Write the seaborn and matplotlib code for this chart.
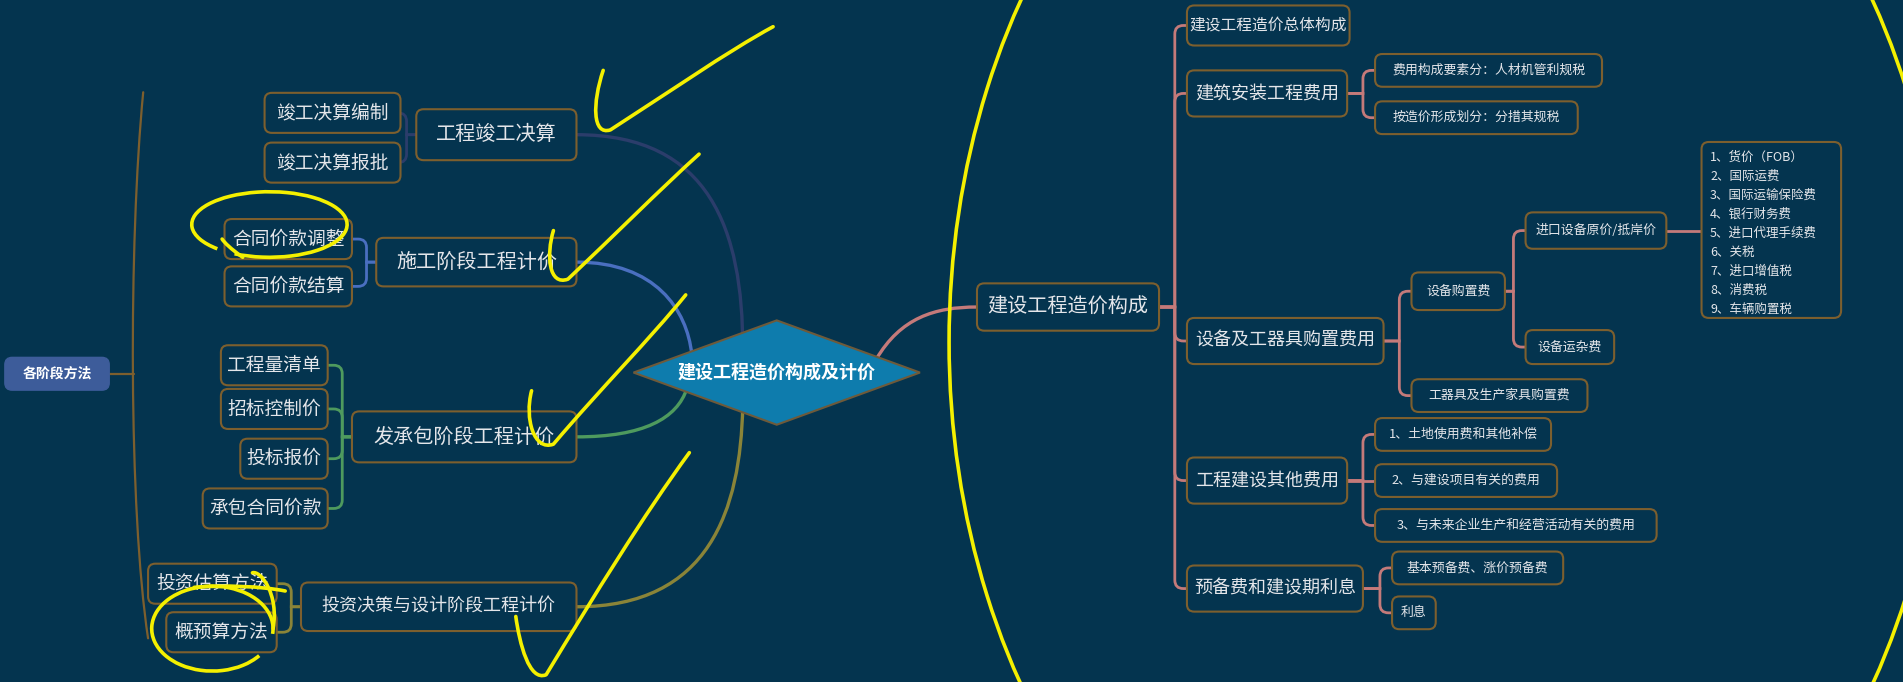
import matplotlib
matplotlib.use("Agg")
import matplotlib.pyplot as plt
from matplotlib.patches import FancyBboxPatch, Polygon, Arc
from matplotlib.path import Path
from matplotlib.patches import PathPatch
import seaborn as sns

sns.set_theme(style="dark")
plt.rcParams['font.family'] = ['Noto Sans CJK SC', 'DejaVu Sans']

# colours
BG = '#04344f'
EDGE = '#7d5f2e'
TXT = '#e4e6ea'
PINK = '#c47a7a'
YEL = '#f4f000'

# ---- labels (the "data" of the mind map) ----
center_label = "建设工程造价构成及计价"
left_root = "各阶段方法"

stage_names = ["工程竣工决算", "施工阶段工程计价", "发承包阶段工程计价", "投资决策与设计阶段工程计价"]
stage_items = [
    ["竣工决算编制", "竣工决算报批"],
    ["合同价款调整", "合同价款结算"],
    ["工程量清单", "招标控制价", "投标报价", "承包合同价款"],
    ["投资估算方法", "概预算方法"],
]
stage_colors = ['#2b3d6b', '#4a6fc0', '#4e9a5e', '#8a8438']

right_root = "建设工程造价构成"
right_level2 = ["建设工程造价总体构成", "建筑安装工程费用", "设备及工器具购置费用", "工程建设其他费用", "预备费和建设期利息"]
right_level3 = {
    "建筑安装工程费用": ["费用构成要素分：人材机管利规税", "按造价形成划分：分措其规税"],
    "设备及工器具购置费用": ["设备购置费", "工器具及生产家具购置费"],
    "工程建设其他费用": ["1、土地使用费和其他补偿", "2、与建设项目有关的费用", "3、与未来企业生产和经营活动有关的费用"],
    "预备费和建设期利息": ["基本预备费、涨价预备费", "利息"],
}
equip_items = ["进口设备原价/抵岸价", "设备运杂费"]
import_costs = ["1、货价（FOB）", "2、国际运费", "3、国际运输保险费", "4、银行财务费", "5、进口代理手续费",
                "6、关税", "7、进口增值税", "8、消费税", "9、车辆购置税"]

# ---- layout (canvas units, scaled to the 1903x682 output) ----
W, H = 1568, 562
# stage boxes: x0, x1, yc, h, fontsize
stage_box = [(343, 475, 111, 42, 14.5), (310, 475, 216, 40, 14.5), (290, 475, 360, 42, 14.5), (248, 475, 500, 40, 13)]
# item boxes: x0, x1, yc
item_box = [
    [(218, 330, 93), (218, 330, 134)],
    [(185, 290, 197), (185, 290, 236)],
    [(182, 270, 301), (182, 270, 337), (198, 270, 378), (167, 270, 419)],
    [(122, 228, 481), (137, 228, 521)],
]
# x0, x1, yc, h, fontsize
l2_box = [(978, 1112, 21, 33, 11.3), (978, 1110, 77, 38, 13), (978, 1140, 281, 38, 13),
          (978, 1110, 396, 38, 13), (978, 1123, 485, 38, 13)]
l3_box = {
    "建筑安装工程费用": [(1133, 1320, 58), (1133, 1300, 97)],
    "设备及工器具购置费用": [(1163, 1240, 240), (1163, 1308, 326)],
    "工程建设其他费用": [(1133, 1278, 358), (1133, 1283, 396), (1133, 1365, 433)],
    "预备费和建设期利息": [(1147, 1288, 468), (1147, 1183, 505)],
}
l4_box = [(1257, 1373, 190), (1257, 1330, 286)]

fig = plt.figure(figsize=(19.03, 6.82), dpi=100)
fig.patch.set_facecolor(BG)
ax = fig.add_axes([0, 0, 1, 1])
ax.set_facecolor(BG)
ax.set_xlim(0, W)
ax.set_ylim(H, 0)
ax.axis('off')


def box(x0, x1, yc, h, text, fs, ec=EDGE, fc=BG, tc=TXT, weight='normal', lw=1.5, r=6):
    ax.add_patch(FancyBboxPatch((x0, yc - h / 2), x1 - x0, h,
                                boxstyle=f"round,pad=0,rounding_size={r}",
                                fc=fc, ec=ec, lw=lw, zorder=3))
    ax.text((x0 + x1) / 2, yc, text, ha='center', va='center', fontsize=fs,
            color=tc, fontweight=weight, zorder=4)


def elbow(px, py, tx, cx, cy, color, lw=2.0, r=7):
    d = 1 if cx > tx else -1
    if abs(cy - py) < 2:
        verts = [(px, py), (cx, cy)]
        codes = [Path.MOVETO, Path.LINETO]
    else:
        s = 1 if cy > py else -1
        verts = [(px, py), (tx, py), (tx, cy - s * r), (tx, cy), (tx + d * r, cy), (cx, cy)]
        codes = [Path.MOVETO, Path.LINETO, Path.LINETO, Path.CURVE3, Path.CURVE3, Path.LINETO]
    ax.add_patch(PathPatch(Path(verts, codes), fc='none', ec=color, lw=lw, zorder=2))


def bezier(pts, color, lw=2.2, z=2):
    codes = [Path.MOVETO] + [Path.CURVE4] * (len(pts) - 1)
    ax.add_patch(PathPatch(Path(pts, codes), fc='none', ec=color, lw=lw, zorder=z,
                           capstyle='round', joinstyle='round'))


# ---- centre diamond ----
ax.add_patch(Polygon([(522, 307), (640, 264), (758, 307), (640, 350)], closed=True,
                     fc='#0e7cad', ec='#6e5a3a', lw=1.5, zorder=3))
ax.text(640, 307, center_label, ha='center', va='center', fontsize=13,
        color='white', fontweight='bold', zorder=4)

# ---- left side ----
box(4, 90, 308, 27, left_root, 10, ec='#3d5c9a', fc='#3d5c9a', tc='white', weight='bold', lw=1)
ax.plot([90, 110], [308, 308], color=EDGE, lw=1.6, zorder=2)
bezier([(118, 76), (106, 200), (106, 420), (122, 526)], EDGE, lw=1.6)

main_curves = [
    [(475, 111), (585, 111), (612, 190), (612, 287)],
    [(475, 216), (540, 216), (566, 255), (570, 292)],
    [(475, 360), (530, 360), (558, 345), (566, 320)],
    [(475, 500), (585, 500), (610, 420), (612, 335)],
]
for name, items, col, sb, ib, curve in zip(stage_names, stage_items, stage_colors, stage_box, item_box, main_curves):
    x0, x1, yc, h, fs = sb
    bezier(curve, col, lw=2.4, z=1)
    box(x0, x1, yc, h, name, fs)
    for it, (ix0, ix1, iy) in zip(items, ib):
        elbow(x0, yc, x0 - 8, ix1, iy, col, lw=2)
        box(ix0, ix1, iy, 33, it, 13.5)

# ---- right side ----
bezier([(722, 296), (742, 262), (770, 253), (805, 253)], PINK, lw=2.4, z=1)
box(805, 955, 253, 39, right_root, 14.5)
for name, (x0, x1, yc, h, fs) in zip(right_level2, l2_box):
    elbow(955, 253, 968, x0, yc, PINK)
    box(x0, x1, yc, h, name, fs)
    if name in right_level3:
        kids = right_level3[name]
        kb = l3_box[name]
        tx = kb[0][0] - 10
        for k, (kx0, kx1, ky) in zip(kids, kb):
            elbow(x1, yc, tx, kx0, ky, PINK)
            box(kx0, kx1, ky, 27 if k != "设备购置费" else 31, k, 9.3)

# equipment purchase sub-tree
ex0, ex1, ey = l3_box["设备及工器具购置费用"][0]
for k, (kx0, kx1, ky) in zip(equip_items, l4_box):
    elbow(ex1, ey, 1247, kx0, ky, PINK)
    box(kx0, kx1, ky, 30 if k == equip_items[0] else 28, k, 9.3)

# import cost list
lx0, lx1, ly0, ly1 = 1402, 1517, 117, 262
ax.plot([l4_box[0][1], lx0], [190, 190], color=PINK, lw=2, zorder=2)
ax.add_patch(FancyBboxPatch((lx0, ly0), lx1 - lx0, ly1 - ly0, boxstyle="round,pad=0,rounding_size=6",
                            fc=BG, ec=EDGE, lw=1.5, zorder=3))
for i, t in enumerate(import_costs):
    ax.text(lx0 + 7, ly0 + 13 + i * 15.6, t, ha='left', va='center', fontsize=9, color=TXT, zorder=4)

# ---- yellow hand-drawn marks ----
ax.add_patch(Arc((1192, 282), 820, 1090, theta1=0, theta2=360, ec=YEL, lw=2.6, zorder=10))
checks = [
    [(497, 58), (488, 85), (488, 112), (503, 107), (545, 80), (600, 42), (637, 22)],
    [(456, 190), (450, 210), (452, 236), (468, 230), (505, 195), (545, 155), (576, 127)],
    [(438, 322), (432, 345), (440, 372), (456, 366), (495, 320), (535, 280), (565, 243)],
    [(425, 508), (428, 530), (436, 562), (450, 556), (490, 490), (530, 425), (568, 373)],
]
for c in checks:
    bezier(c, YEL, lw=2.6, z=10)
ax.add_patch(Arc((222, 185), 128, 54, theta1=-205, theta2=140, ec=YEL, lw=2.6, zorder=10))
bezier([(200, 212), (190, 205), (185, 200), (183, 197)], YEL, lw=2.6, z=10)
ax.add_patch(Arc((175, 518), 100, 70, theta1=-330, theta2=5, ec=YEL, lw=2.6, zorder=10))
bezier([(225, 518), (230, 490), (215, 470), (208, 472)], YEL, lw=2.6, z=10)
bezier([(160, 484), (185, 482), (215, 483), (235, 487)], YEL, lw=2.6, z=10)

fig.savefig("out.png", dpi=100, facecolor=BG)
